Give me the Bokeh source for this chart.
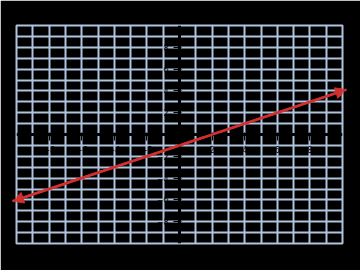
from bokeh.plotting import figure
from bokeh.models import FixedTicker, Arrow, NormalHead, ColumnDataSource
from bokeh.embed import file_html
from bokeh.resources import INLINE

# data
grid_ticks = list(range(-10, 11))
label_ticks = [-8, -6, -4, -2, 2, 4, 6, 8]
line_x = [-10.25, 10.25]
line_y = [-6.12, 4.12]

GRID = "#b0c4de"
RED = "#d32f2f"

p = figure(width=360, height=270, x_range=(-10, 10), y_range=(-10, 10),
           toolbar_location=None, output_backend="svg",
           min_border_left=16, min_border_right=18,
           min_border_top=25, min_border_bottom=27)
p.background_fill_color = "black"
p.border_fill_color = "black"
p.outline_line_color = GRID
p.outline_line_width = 2

for g in (p.xgrid, p.ygrid):
    g.ticker = FixedTicker(ticks=grid_ticks)
    g.grid_line_color = GRID
    g.grid_line_width = 2
    g.grid_line_alpha = 1.0

for ax in (p.xaxis, p.yaxis):
    ax.fixed_location = 0
    ax.ticker = FixedTicker(ticks=label_ticks)
    ax.bounds = (-10, 10)
    ax.axis_line_color = "black"
    ax.axis_line_width = 3
    ax.major_tick_line_color = "black"
    ax.minor_tick_line_color = None
    ax.major_label_text_color = "black"
    ax.major_label_text_font_size = "8px"
    ax.major_label_text_font = "DejaVu Sans"

src = ColumnDataSource(dict(x=line_x, y=line_y))
p.line("x", "y", source=src, line_color=RED, line_width=2.5)
p.add_layout(Arrow(start=NormalHead(size=11, fill_color=RED, line_color=RED),
                   end=NormalHead(size=11, fill_color=RED, line_color=RED),
                   x_start=line_x[0], y_start=line_y[0],
                   x_end=line_x[1], y_end=line_y[1],
                   line_color=RED, line_width=2.5))

open("out.html", "w").write(file_html(p, INLINE))
